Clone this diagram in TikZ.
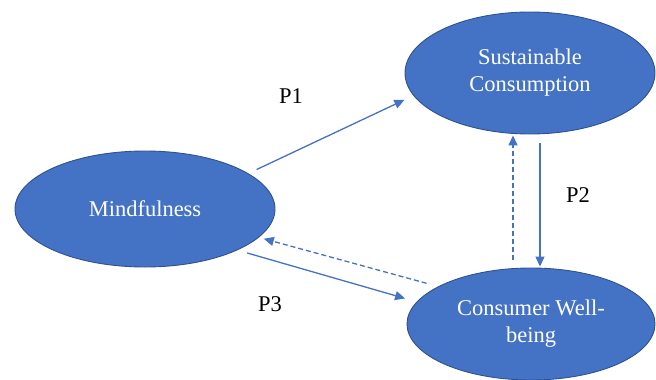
\documentclass[tikz,border=0pt]{standalone}
\usepackage{fontspec}
\setmainfont{Liberation Serif}
\usetikzlibrary{arrows.meta,shapes.geometric,positioning,calc}
\definecolor{ovalblue}{HTML}{4472C4}
\definecolor{ovaledge}{HTML}{2F528F}

\begin{document}
\begin{tikzpicture}[x=1pt,y=-1pt,
  oval/.style={ellipse, fill=ovalblue, draw=ovaledge, line width=0.9pt, inner sep=0pt,
    text=white, align=center, font=\fontsize{22.5}{27}\selectfont},
  link/.style={draw=ovalblue, line width=1.3pt, -{Triangle[length=10pt,width=9pt]}},
  dashlink/.style={link, dash pattern=on 5pt off 3pt},
  plabel/.style={font=\fontsize{22.5}{27}\selectfont}]
\useasboundingbox (0,0) rectangle (656,380);
% Constructs
\node[oval, minimum width=260pt, minimum height=116pt] (mind) at (145,209) {Mindfulness};
\node[oval, minimum width=250pt, minimum height=122pt] (sus) at (530,73) {Sustainable\\Consumption};
\node[oval, minimum width=248pt, minimum height=112pt] (cons) at (531,324) {Consumer Well-\\being};
% Propositions
\draw[link, shorten <=9pt, shorten >=10pt] (mind.19) -- (sus.191);
\draw[link, shorten <=9pt, shorten >=1pt] ([xshift=10pt]sus.south) -- ([xshift=9pt]cons.north);
\draw[dashlink, shorten <=8pt, shorten >=1pt] ([xshift=-18pt]cons.north) -- ([xshift=-17pt]sus.south);
\draw[link, shorten <=10pt, shorten >=12pt] (mind.-24) -- (cons.169);
\draw[dashlink, shorten <=12pt, shorten >=5pt] (cons.158) -- (mind.-14);
% Labels
\node[plabel] (p1) at (291,96) {P1};
\node[plabel] (p2) at (578,195) {P2};
\node[plabel] (p3) at (270,304) {P3};
\end{tikzpicture}
\end{document}
